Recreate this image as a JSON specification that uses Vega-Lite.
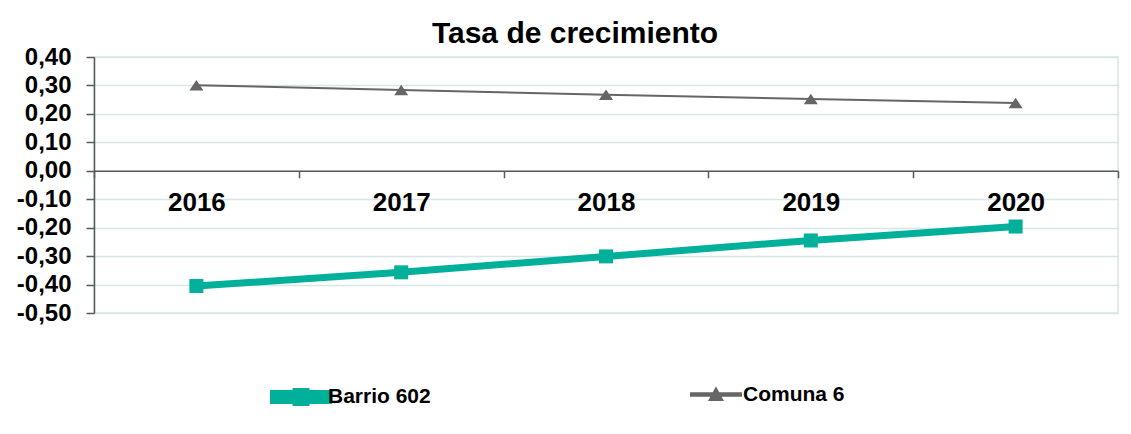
{
  "$schema": "https://vega.github.io/schema/vega-lite/v6.json",
  "autosize": {"type": "none"},
  "width": 1024,
  "height": 256,
  "padding": {"left": 94, "top": 57, "right": 13, "bottom": 121},
  "background": "white",
  "title": {
    "text": "Tasa de crecimiento",
    "font": "Liberation Sans",
    "fontSize": 30,
    "fontWeight": "bold",
    "color": "#000000",
    "anchor": "middle",
    "dx": -31,
    "dy": 34,
    "baseline": "alphabetic",
    "offset": 6
  },
  "data": {
    "values": [
      {"year": "2016", "series": "Barrio 602", "value": -0.405},
      {"year": "2017", "series": "Barrio 602", "value": -0.357},
      {"year": "2018", "series": "Barrio 602", "value": -0.301},
      {"year": "2019", "series": "Barrio 602", "value": -0.245},
      {"year": "2020", "series": "Barrio 602", "value": -0.196},
      {"year": "2016", "series": "Comuna 6", "value": 0.301},
      {"year": "2017", "series": "Comuna 6", "value": 0.284},
      {"year": "2018", "series": "Comuna 6", "value": 0.267},
      {"year": "2019", "series": "Comuna 6", "value": 0.252},
      {"year": "2020", "series": "Comuna 6", "value": 0.238}
    ]
  },
  "encoding": {
    "x": {
      "field": "year",
      "type": "ordinal",
      "scale": {"type": "band", "paddingInner": 0, "paddingOuter": 0},
      "axis": {
        "title": null,
        "labelAngle": 0,
        "offset": -142.2,
        "tickBand": "extent",
        "tickSize": 7,
        "tickColor": "#595959",
        "tickWidth": 1.5,
        "domainColor": "#595959",
        "domainWidth": 1.5,
        "labelFont": "Liberation Sans",
        "labelFontSize": 26,
        "labelFontWeight": "bold",
        "labelColor": "#000000",
        "labelPadding": 12,
        "grid": false
      }
    },
    "y": {
      "field": "value",
      "type": "quantitative",
      "scale": {"domain": [-0.5, 0.4], "nice": false, "zero": false},
      "axis": {
        "title": null,
        "values": [-0.5, -0.4, -0.3, -0.2, -0.1, 0, 0.1, 0.2, 0.3, 0.4],
        "format": ".2f",
        "tickSize": 8,
        "tickColor": "#595959",
        "tickWidth": 1.5,
        "domainColor": "#595959",
        "domainWidth": 1.5,
        "labelFont": "Liberation Sans",
        "labelFontSize": 24,
        "labelFontWeight": "bold",
        "labelColor": "#000000",
        "labelPadding": 15,
        "grid": true,
        "gridColor": "#d6e6e6",
        "gridWidth": 1.5
      }
    },
    "color": {
      "field": "series",
      "type": "nominal",
      "scale": {"domain": ["Barrio 602", "Comuna 6"], "range": ["#00b09b", "#666666"]},
      "legend": {
        "title": null,
        "orient": "none",
        "direction": "horizontal",
        "columns": 2,
        "gridAlign": "none",
        "columnPadding": 254,
        "legendX": 176,
        "legendY": 309,
        "symbolSize": 3025,
        "symbolStrokeWidth": 0,
        "symbolStrokeColor": "transparent",
        "symbolOpacity": 1,
        "labelOffset": -4,
        "labelFont": "Liberation Sans",
        "labelFontSize": 21,
        "labelFontWeight": "bold",
        "labelColor": "#000000",
        "labelBaseline": "middle"
      }
    }
  },
  "layer": [
    {
      "mark": {"type": "line"},
      "encoding": {
        "strokeWidth": {
          "field": "series",
          "type": "nominal",
          "scale": {"domain": ["Barrio 602", "Comuna 6"], "range": [7, 2]},
          "legend": null
        }
      }
    },
    {
      "transform": [{"filter": "datum.series === 'Barrio 602'"}],
      "mark": {"type": "point", "filled": true, "opacity": 1, "size": 196, "shape": "M-1,-1H1V1H-1Z"}
    },
    {
      "transform": [{"filter": "datum.series === 'Comuna 6'"}],
      "mark": {"type": "point", "filled": true, "opacity": 1, "size": 196, "shape": "M0,-0.75L1,0.75L-1,0.75Z"}
    },
    {
      "transform": [{"filter": "datum.value > 5"}],
      "mark": {"type": "point", "filled": true, "opacity": 1, "strokeWidth": 0},
      "encoding": {
        "shape": {
          "field": "series",
          "type": "nominal",
          "scale": {
            "domain": ["Barrio 602", "Comuna 6"],
            "range": [
              "M-1,-0.127H1V0.127H-1Z M-0.18,-0.2H0.18V0.2H-0.18Z",
              "M-0.91,-0.045H0.91V0.045H-0.91Z M0,-0.22L0.23,0.2L-0.23,0.2Z"
            ]
          },
          "legend": {
            "title": null,
            "orient": "none",
            "direction": "horizontal",
            "columns": 2,
            "gridAlign": "none",
            "columnPadding": 254,
            "legendX": 176,
            "legendY": 309,
            "symbolSize": 3025,
            "symbolStrokeWidth": 0,
            "symbolStrokeColor": "transparent",
            "symbolOpacity": 1,
            "labelOffset": -4,
            "labelFont": "Liberation Sans",
            "labelFontSize": 21,
            "labelFontWeight": "bold",
            "labelColor": "#000000",
            "labelBaseline": "middle"
          }
        }
      }
    }
  ],
  "config": {
    "view": {"stroke": "#d6e6e6", "strokeWidth": 1.5},
    "locale": {"number": {"decimal": ",", "thousands": ".", "grouping": [3], "currency": ["", ""], "minus": "-"}}
  }
}
